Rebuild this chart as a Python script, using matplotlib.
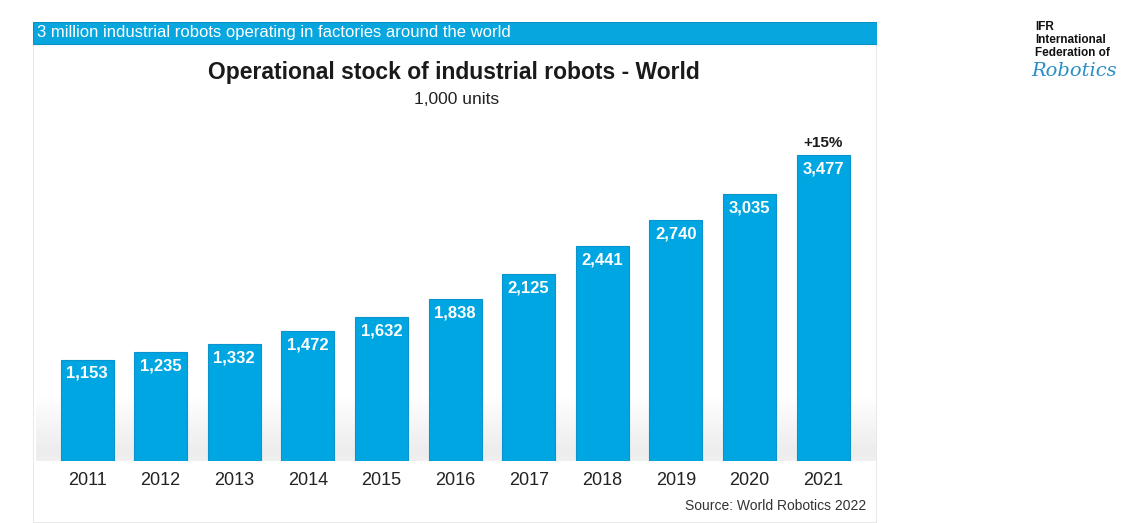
import matplotlib.pyplot as plt
import numpy as np

plt.rcParams["font.family"] = ["Liberation Sans", "DejaVu Sans"]

# data
years = ["2011", "2012", "2013", "2014", "2015", "2016",
         "2017", "2018", "2019", "2020", "2021"]
stock = [1153, 1235, 1332, 1472, 1632, 1838, 2125, 2441, 2740, 3035, 3477]
growth_label = "+15%"

banner_text = "3 million industrial robots operating in factories around the world"
title = "Operational stock of industrial robots - World"
subtitle = "1,000 units"
source = "Source: World Robotics 2022"

W, H = 1148, 523
fig = plt.figure(figsize=(W / 100, H / 100), dpi=100)
fig.patch.set_facecolor("white")


def fx(px):
    return px / W


def fy(py):
    return 1 - py / H


# panel + banner
bg = fig.add_axes([fx(33), 0, fx(877 - 33), fy(22)])
bg.set_xlim(0, 1)
bg.set_ylim(0, 1)
bg.axis("off")
bg.add_patch(plt.Rectangle((0, 0), 1, 1, facecolor="white",
                           edgecolor="#e4e4e4", lw=1.2))
bh = 22 / (523 - 22)
bg.add_patch(plt.Rectangle((0, 1 - bh), 1, bh, facecolor="#08a6de",
                           edgecolor="#0b8fc4", lw=0.8))
fig.text(fx(37), fy(33), banner_text, color="white", fontsize=12,
         va="center", ha="left")

fig.text(fx(454), fy(72), title, fontsize=16.5, fontweight="bold",
         ha="center", va="center", color="#1a1a1a")
fig.text(fx(457), fy(100), subtitle, fontsize=12.5, ha="center",
         va="center", color="#222222")
fig.text(fx(866), fy(506), source, fontsize=10, ha="right",
         va="center", color="#333333")

# bars
ax = fig.add_axes([fx(33), fy(461), fx(877 - 33), fy(109) - fy(461)])
ax.patch.set_alpha(0)
x = np.arange(len(years))

# soft shadow behind the bars
grad = np.linspace(0, 1, 200).reshape(-1, 1)
shade = np.ones((200, 1, 4))
shade[..., :3] = 0.55
shade[..., 3] = 0.16 * np.clip(1 - np.abs(grad - 0.15) / 0.85, 0, 1)[:, :]
ax.imshow(shade, extent=[-0.7, 10.7, 0, 750], aspect="auto",
          origin="lower", zorder=0)

bars = ax.bar(x, stock, width=0.72, color="#00a6e2",
              edgecolor="#0a93cc", linewidth=0.8, zorder=2)
for rect, v in zip(bars, stock):
    ax.annotate(f"{v:,}", (rect.get_x() + rect.get_width() / 2, v),
                xytext=(0, -10), textcoords="offset points",
                ha="center", va="center", color="white",
                fontsize=12, fontweight="bold", zorder=3)
ax.annotate(growth_label, (x[-1], stock[-1]), xytext=(0, 9),
            textcoords="offset points", ha="center", va="center",
            fontsize=11, fontweight="bold", color="#1a1a1a")

ax.set_xlim(-0.734, 10.733)
ax.set_ylim(0, 4000)
ax.set_xticks(x)
ax.set_xticklabels(years, fontsize=13, color="#222222")
ax.tick_params(axis="x", length=0, pad=8)
ax.set_yticks([])
for s in ax.spines.values():
    s.set_visible(False)

# IFR logo text
fig.text(fx(1035), fy(27), "IFR", fontsize=8.5, fontweight="bold",
         va="center", color="#111111")
fig.text(fx(1035), fy(40), "International", fontsize=8.5, fontweight="bold",
         va="center", color="#111111")
fig.text(fx(1035), fy(53), "Federation of", fontsize=8.5, fontweight="bold",
         va="center", color="#111111")
fig.text(fx(1031), fy(71), "Robotics", fontsize=14, style="italic",
         va="center", color="#2a8fc8", family="DejaVu Serif")

fig.savefig("out.png", dpi=100)
